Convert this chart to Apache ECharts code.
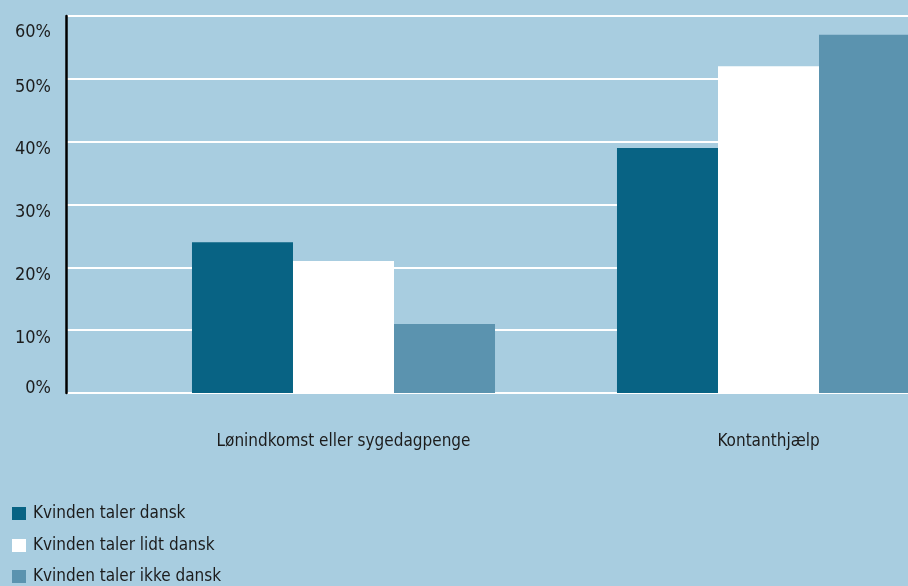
<!DOCTYPE html>
<html>
<head>
<meta charset="utf-8">
<script src="https://cdn.jsdelivr.net/npm/echarts@6/dist/echarts.min.js"></script>
<style>
  html, body { margin: 0; padding: 0; background: #a8cde0; }
  #chart { width: 908px; height: 586px; }
</style>
</head>
<body>
<div id="chart"></div>
<script>
// Income source categories
const categories = ['Lønindkomst eller sygedagpenge', 'Kontanthjælp'];
// Share (%) by the woman's Danish proficiency
const taler_dansk = [24, 39];
const taler_lidt_dansk = [21, 52];
const taler_ikke_dansk = [11, 57];
const seriesNames = ['Kvinden taler dansk', 'Kvinden taler lidt dansk', 'Kvinden taler ikke dansk'];
const yTicks = [0, 10, 20, 30, 40, 50, 60];

const FONT = '"DejaVu Sans Condensed", "Noto Sans", sans-serif';
const TEXT = '#1c1c1c';
const FS = 17;
const colors = ['#086384', '#ffffff', '#5b93af'];

const chart = echarts.init(document.getElementById('chart'));

const yMax = yTicks[yTicks.length - 1];
const yStep = yTicks[1] - yTicks[0];

// one legend block per entry, stacked down the lower-left corner
const legendTops = [505, 537, 568];
const legends = seriesNames.map(function (name, i) {
  return {
    orient: 'vertical', left: 12, top: legendTops[i], padding: 0,
    icon: 'rect', itemWidth: 14, itemHeight: 13, itemGap: 6,
    textStyle: { fontSize: FS, color: TEXT, fontFamily: FONT, padding: [0, 0, 0, 2] },
    data: [name]
  };
});

chart.setOption({
  backgroundColor: '#a8cde0',
  animation: false,
  textStyle: { fontFamily: FONT, color: TEXT },
  grid: [
    // frame: y axis, gridlines, labels
    { left: 66, top: 16, width: 842, bottom: 193, outerBoundsMode: 'none', containLabel: false },
    // bars
    { left: 131, top: 16, width: 850, bottom: 193, outerBoundsMode: 'none', containLabel: false }
  ],
  xAxis: [
    { gridIndex: 0, type: 'value', min: 0, max: 1, show: false },
    {
      gridIndex: 1, type: 'category', data: categories,
      axisLine: { show: false }, axisTick: { show: false },
      axisLabel: { interval: 0, margin: 40, fontSize: FS, color: TEXT, fontFamily: FONT, hideOverlap: false }
    }
  ],
  yAxis: [
    {
      gridIndex: 0, type: 'value', min: yTicks[0], max: yMax, interval: yStep,
      axisLine: { show: true, lineStyle: { color: '#000', width: 2.5 } },
      axisTick: { show: false },
      splitLine: { show: true, lineStyle: { color: '#ffffff', width: 2 } },
      axisLabel: {
        margin: 15, fontSize: 18, color: TEXT, fontFamily: FONT,
        formatter: function (v) {
          if (v === yMax) return '{top|' + v + '%}';
          if (v === 0) return '{bot|' + v + '%}';
          return '{mid|' + v + '%}';
        },
        rich: {
          top: { fontSize: 18, fontFamily: FONT, color: TEXT, padding: [32, 0, 0, 0] },
          mid: { fontSize: 18, fontFamily: FONT, color: TEXT, padding: [16, 0, 0, 0] },
          bot: { fontSize: 18, fontFamily: FONT, color: TEXT, padding: [0, 0, 10, 0] }
        }
      }
    },
    { gridIndex: 1, type: 'value', min: yTicks[0], max: yMax, interval: yStep, show: false, splitLine: { show: false } }
  ],
  legend: legends,
  series: [taler_dansk, taler_lidt_dansk, taler_ikke_dansk].map(function (vals, i) {
    return {
      name: seriesNames[i], type: 'bar', xAxisIndex: 1, yAxisIndex: 1,
      data: vals, barGap: '0%', barCategoryGap: '28.7%',
      itemStyle: { color: colors[i] }, z: 3
    };
  })
});
</script>
</body>
</html>
